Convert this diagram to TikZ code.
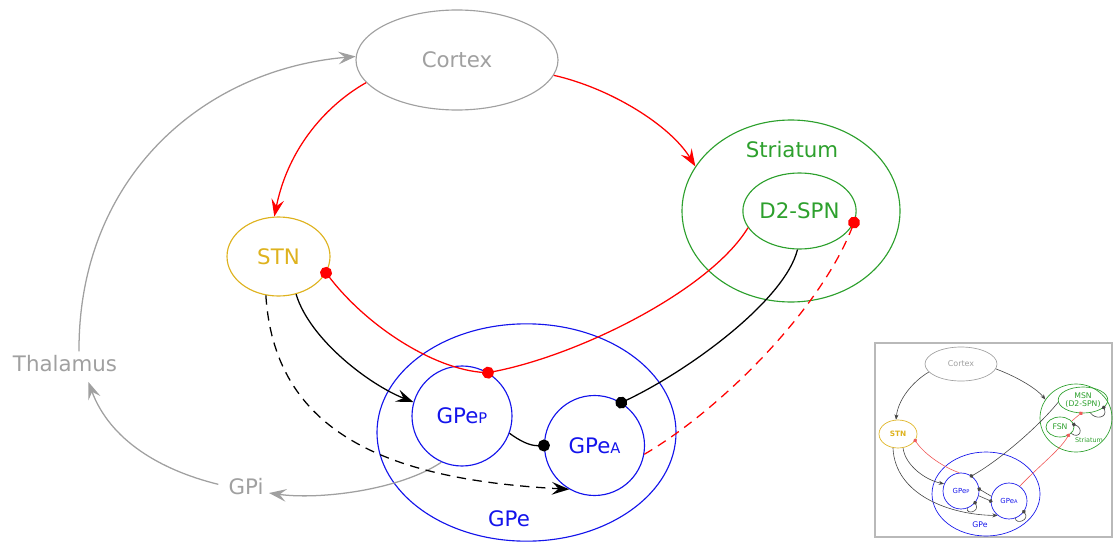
\documentclass[tikz,border=0pt]{standalone}
\usepackage{fontspec}
\setmainfont{DejaVu Sans}
\usetikzlibrary{shapes.geometric,arrows.meta}
\definecolor{cgray}{RGB}{160,160,160}
\definecolor{cred}{RGB}{255,0,0}
\definecolor{cgreen}{RGB}{45,160,45}
\definecolor{cblue}{RGB}{20,20,235}
\definecolor{cgold}{RGB}{222,178,30}
\definecolor{sdark}{RGB}{70,70,70}
\definecolor{sred}{RGB}{240,90,90}
\definecolor{frame}{RGB}{185,185,185}
\begin{document}
\begin{tikzpicture}[x=0.75pt,y=-0.75pt,
  ell/.style={ellipse, draw, inner sep=0pt, line width=0.85pt},
  circ/.style={circle, draw, inner sep=0pt, line width=0.85pt},
  big/.style={font=\fontsize{16}{18}\selectfont, inner sep=0pt},
  conn/.style={line width=0.95pt},
  arr/.style={-{Stealth[length=13pt,width=9.5pt,inset=5pt]}},
  dotend/.style={-{Circle[length=9pt]}, shorten >=-4.5pt},
  sell/.style={ellipse, draw, inner sep=0pt, line width=0.5pt},
  scirc/.style={circle, draw, inner sep=0pt, line width=0.5pt},
  tiny/.style={inner sep=0pt, align=center},
  sconn/.style={line width=0.45pt},
  sarr/.style={-{Stealth[length=4pt,width=3pt,inset=1.3pt]}},
  sdot/.style={-{Circle[length=3pt]}, shorten >=-1.5pt},
]
\useasboundingbox (0,0) rectangle (1113,542);

% ---------- main nodes ----------
\node[ell, draw=cgray, text=cgray, big, minimum width=151.5pt, minimum height=75pt] (cortex) at (457,60) {Cortex};
\node[ell, draw=cgreen, minimum width=163.5pt, minimum height=136.5pt] (striatum) at (791,211) {};
\node[big, text=cgreen] (strlabel) at (792,150) {Striatum};
\node[ell, draw=cgreen, text=cgreen, big, minimum width=81.75pt, minimum height=57pt] (d2spn) at (799.5,211) {D2-SPN};
\node[ell, draw=cgold, text=cgold, big, minimum width=77.25pt, minimum height=59.25pt] (stn) at (278.5,256.5) {STN};
\node[ell, draw=cblue, minimum width=224.25pt, minimum height=163pt] (gpe) at (526.5,432.5) {};
\node[big, text=cblue] (gpelabel) at (509,519) {GPe};
\node[circ, draw=cblue, text=cblue, big, minimum size=75pt] (gpep) at (462,416) {GPe{\fontsize{11}{11}\selectfont P}};
\node[circ, draw=cblue, text=cblue, big, minimum size=75pt] (gpea) at (594.5,445.5) {GPe{\fontsize{11}{11}\selectfont A}};
\node[big, text=cgray] (thal) at (65,364) {Thalamus};
\node[big, text=cgray] (gpi) at (246,487) {GPi};

% ---------- main connectors ----------
\draw[conn, cred, arr] (cortex.194) .. controls (335,100) and (290,140) .. (stn.96);
\draw[conn, cred, arr] (cortex.351) .. controls (610,88) and (670,125) .. (striatum.155);
\draw[conn, cgray, arr] ([xshift=10.5pt,yshift=3pt]thal.north) -- ++(0,-2) .. controls (79,180) and (200,70) .. (cortex.178);
\draw[conn, cgray, arr] ([xshift=-7.5pt,yshift=2pt]gpi.west) .. controls (160,470) and (110,440) .. ([xshift=17.5pt,yshift=-7pt]thal.south);
\draw[conn, cgray, arr] (gpep.246) .. controls (400,490) and (320,500) .. ([xshift=4pt,yshift=-4.5pt]gpi.east);
\draw[conn, black, arr] (stn.295) .. controls (310,340) and (370,385) .. (gpep.164);
\draw[conn, black, arr, dashed, dash pattern=on 7pt off 5pt] (stn.252) .. controls (275,440) and (400,480) .. (gpea.240);
\draw[conn, cred, dotend] (gpep.59) .. controls (440,372) and (370,330) .. (stn.341);
\draw[conn, cred, dotend] (d2spn.198) .. controls (710,290) and (580,355) .. (gpep.59);
\draw[conn, black, dotend] (d2spn.267) .. controls (785,300) and (690,370) .. (gpea.58);
\draw[conn, black, dotend] (gpep.340) .. controls (520,441) and (530,446) .. (gpea.180);
\draw[conn, cred, dotend, dash pattern=on 7pt off 5pt] (gpea.350) .. controls (720,410) and (820,310) .. (d2spn.348);

% ---------- inset ----------
\node[draw=frame, line width=1pt, minimum width=177.75pt, minimum height=145.5pt, inner sep=0pt] (inset) at (993.5,440) {};
\node[sell, draw=cgray, text=cgray, font=\fontsize{6}{6}\selectfont, minimum width=54pt, minimum height=25.5pt] (icortex) at (961,364) {Cortex};
\node[sell, draw=cgold, text=cgold, font=\fontsize{5.5}{5.5}\selectfont\bfseries, minimum width=28.5pt, minimum height=21pt] (istn) at (898,434) {STN};
\node[sell, draw=cgreen, minimum width=54pt, minimum height=51pt] (istr) at (1076,418) {};
\node[sell, draw=cgreen, text=cgreen, tiny, font=\fontsize{5.8}{6.2}\selectfont, minimum width=33pt, minimum height=19.5pt] (imsn) at (1083,400) {MSN\\(D2-SPN)};
\node[sell, draw=cgreen, text=cgreen, font=\fontsize{5.8}{6}\selectfont, minimum width=21pt, minimum height=15pt] (ifsn) at (1060,427) {FSN};
\node[tiny, text=cgreen, font=\fontsize{4.8}{5}\selectfont] (istrlabel) at (1089,440) {Striatum};
\node[sell, draw=cblue, minimum width=81pt, minimum height=63pt] (igpe) at (986,494) {};
\node[tiny, text=cblue, font=\fontsize{5.8}{6}\selectfont] (igpelabel) at (980,525) {GPe};
\node[scirc, draw=cblue, text=cblue, font=\fontsize{5.2}{5}\selectfont, minimum size=27pt] (igpep) at (961,491) {GPe{\fontsize{3.8}{4}\selectfont P}};
\node[scirc, draw=cblue, text=cblue, font=\fontsize{5.2}{5}\selectfont, minimum size=27pt] (igpea) at (1009,501) {GPe{\fontsize{3.8}{4}\selectfont A}};

\draw[sconn, sdark, sarr] (icortex.194) .. controls (912,382) and (898,400) .. (istn.98);
\draw[sconn, sdark, sarr] (icortex.352) .. controls (1020,378) and (1038,390) .. (istr.149);
\draw[sconn, sred, sdot] (igpep.95) .. controls (945,468) and (925,455) .. (istn.339);
\draw[sconn, sdark, sarr] (istn.290) .. controls (905,465) and (925,480) .. (igpep.157);
\draw[sconn, sdark, sarr] (istn.250) .. controls (895,495) and (950,515) .. (igpea.232);
\draw[sconn, sdark, sdot] (imsn.185) .. controls (1040,425) and (1000,460) .. (igpep.55);
\draw[sconn, sred, sdot] (igpea.54) .. controls (1040,465) and (1060,450) .. (ifsn.315);
\draw[sconn, sred, sdot] (ifsn.27) -- (imsn.261);
\draw[sconn, sdark, sdot] (imsn.300) .. controls (1095,420) and (1108,418) .. (imsn.340);
\draw[sconn, sdark, sdot] (ifsn.330) .. controls (1080,440) and (1084,428) .. (ifsn.10);
\draw[sconn, sdark, sdot] (igpea.165) -- (igpep.6);
\draw[sconn, sdark, sdot] (igpep.345) -- (igpea.180);
\draw[sconn, sdark, sdot] (igpep.290) .. controls (966,515) and (980,512) .. (igpep.320);
\draw[sconn, sdark, sdot] (igpea.290) .. controls (1016,525) and (1030,520) .. (igpea.324);
\end{tikzpicture}
\end{document}
